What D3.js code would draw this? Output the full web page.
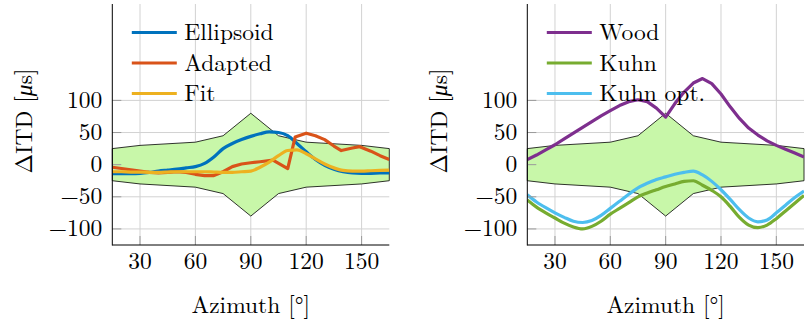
<!DOCTYPE html>
<html><head><meta charset="utf-8">
<script src="https://cdn.jsdelivr.net/npm/d3@7"></script>
<style>body{margin:0;background:#fff}svg{display:block}</style>
</head><body><svg id="c" width="805" height="321"></svg>
<script>
// ---- data ----
const azimuth = [15,20,25,30,35,40,45,50,55,60,65,70,75,80,85,90,95,100,105,110,115,120,125,130,135,140,145,150,155,160,165];
const xTicks = [30,60,90,120,150];
const yTicks = [-100,-50,0,50,100];
const bandAz = [15,30,60,75,90,105,120,150,165];
const bandUpper = [25,30,35,45,80,45,35,30,25];
const bandLower = [-25,-30,-35,-45,-80,-45,-35,-30,-25];

const ellipsoid = [-14,-14,-14,-13.5,-12,-10,-8.5,-7,-5,-3,2,12,25,33,39,44,48,51,50,45,33,20,8,-1,-7,-11,-13,-13.5,-13.5,-13,-13];
const adaptedAz = [15,20,25,30,35,40,45,50,55,60,65,70,75,80,85,90,95,102,110,114,120,125,130,135,139,145,149,155,160,165];
const adapted = [-4,-6,-8,-10,-12,-13,-12,-11,-12,-15,-17,-17,-11,-3,1,3,4.5,7,-6,43,49,45,39,29,22,26,28,21,14,8];
const fit = [-11,-11,-11.5,-11.5,-12,-12,-11.5,-11,-11,-11,-11,-11.5,-12,-12,-11,-10,-4,4,14,22,23,17,9,1,-5,-9,-10,-10,-9.5,-9,-8.5];

const wood = [8,15,23,31,40,49,58,67,76,84,92,98,101,98,88,74,95,113,127,134,126,110,90,72,57,46,37,30,24,18,12];
const kuhn = [-55,-66,-75,-83,-91,-97,-100,-96,-88,-77,-68,-59,-50,-44,-39,-34,-30,-26,-25,-32,-40,-50,-65,-82,-94,-98,-94,-84,-72,-60,-48];
const kuhnOpt = [-47,-58,-67,-75,-82,-88,-90,-87,-79,-68,-57,-46,-36,-29,-23,-19,-15,-12,-10,-16,-26,-39,-54,-70,-83,-89,-86,-75,-63,-51,-41];

const panels = [
  {left:112.3, right:389.3, series:[
    {name:"Ellipsoid", x:azimuth, y:ellipsoid, color:"#0072BD", smooth:true},
    {name:"Adapted", x:adaptedAz, y:adapted, color:"#D95319", smooth:false},
    {name:"Fit", x:azimuth, y:fit, color:"#EDB120", smooth:true}]},
  {left:527.3, right:804, series:[
    {name:"Wood", x:azimuth, y:wood, color:"#7E2F8E", smooth:false},
    {name:"Kuhn", x:azimuth, y:kuhn, color:"#77AC30", smooth:true},
    {name:"Kuhn opt.", x:azimuth, y:kuhnOpt, color:"#4DBEEE", smooth:true}]}
];

const FONT = '"Latin Modern Roman", "Liberation Serif", serif';
const FS = 23.5;
const svg = d3.select("#c");
const plotTop = 4, plotBottom = 245;
const y = d3.scaleLinear().domain([-125,250]).range([plotBottom, plotTop]);

panels.forEach((p, pi) => {
  const x = d3.scaleLinear().domain([15,165]).range([p.left, p.right]);
  const g = svg.append("g");
  const clipId = "clip"+pi;
  svg.append("clipPath").attr("id", clipId).append("rect")
    .attr("x", p.left).attr("y", plotTop).attr("width", p.right-p.left).attr("height", plotBottom-plotTop);

  // grid
  g.selectAll(".gx").data(xTicks).join("line")
    .attr("x1", d=>x(d)).attr("x2", d=>x(d)).attr("y1", plotTop).attr("y2", plotBottom)
    .attr("stroke", "#d2d2d2").attr("stroke-width", 1);
  g.selectAll(".gy").data(yTicks).join("line")
    .attr("y1", d=>y(d)).attr("y2", d=>y(d)).attr("x1", p.left).attr("x2", p.right)
    .attr("stroke", "#d2d2d2").attr("stroke-width", 1);

  // band
  const bandPts = bandAz.map((a,i)=>[x(a), y(bandUpper[i])])
    .concat(bandAz.map((a,i)=>[x(a), y(bandLower[i])]).reverse());
  g.append("path").attr("d", d3.line()(bandPts) + "Z")
    .attr("fill", "#c8f7a9").attr("stroke", "#000").attr("stroke-width", 0.8);

  // series
  const lg = g.append("g").attr("clip-path", `url(#${clipId})`);
  p.series.forEach(s => {
    const line = d3.line().x((d,i)=>x(s.x[i])).y(d=>y(d))
      .curve(s.smooth ? d3.curveMonotoneX : d3.curveLinear);
    lg.append("path").attr("d", line(s.y)).attr("fill","none")
      .attr("stroke", s.color).attr("stroke-width", 3.2).attr("stroke-linejoin","round");
  });

  // ticks (inside)
  g.selectAll(".tx").data(xTicks).join("line")
    .attr("x1", d=>x(d)).attr("x2", d=>x(d)).attr("y1", plotBottom).attr("y2", plotBottom-9)
    .attr("stroke", "#9a9a9a").attr("stroke-width", 1);
  g.selectAll(".ty").data(yTicks).join("line")
    .attr("y1", d=>y(d)).attr("y2", d=>y(d)).attr("x1", p.left).attr("x2", p.left+9)
    .attr("stroke", "#9a9a9a").attr("stroke-width", 1);

  // axis lines
  g.append("line").attr("x1", p.left).attr("x2", p.left).attr("y1", plotTop).attr("y2", plotBottom+0.5)
    .attr("stroke", "#000").attr("stroke-width", 1);
  g.append("line").attr("x1", p.left).attr("x2", p.right).attr("y1", plotBottom).attr("y2", plotBottom)
    .attr("stroke", "#000").attr("stroke-width", 1);

  // tick labels
  g.selectAll(".lx").data(xTicks).join("text")
    .attr("x", d=>x(d)).attr("y", 268.5).attr("text-anchor","middle")
    .style("font-family", FONT).attr("font-size", FS).text(d=>d);
  g.selectAll(".ly").data(yTicks).join("text")
    .attr("x", p.left-10).attr("y", d=>y(d)+7.5).attr("text-anchor","end")
    .style("font-family", FONT).attr("font-size", FS).text(d=> d<0 ? "\u2212"+Math.abs(d) : d);

  // axis titles
  g.append("text").attr("x", (p.left+p.right)/2).attr("y", 313).attr("text-anchor","middle")
    .style("font-family", FONT).attr("font-size", FS).text("Azimuth [°]");
  const yt = g.append("text").attr("transform", `translate(${p.left-80},121) rotate(-90)`)
    .attr("text-anchor","middle").style("font-family", FONT).attr("font-size", FS);
  yt.append("tspan").text("\u0394ITD [");
  yt.append("tspan").attr("font-style","italic").text("\u03bc");
  yt.append("tspan").text("s]");

  // legend
  p.series.forEach((s,i) => {
    const ly = 32.5 + i*30.5;
    g.append("line").attr("x1", p.left+19.5).attr("x2", p.left+64.5).attr("y1", ly).attr("y2", ly)
      .attr("stroke", s.color).attr("stroke-width", 3.2);
    g.append("text").attr("x", p.left+72).attr("y", ly+7.5)
      .style("font-family", FONT).attr("font-size", FS).text(s.name);
  });
});
</script></body></html>
